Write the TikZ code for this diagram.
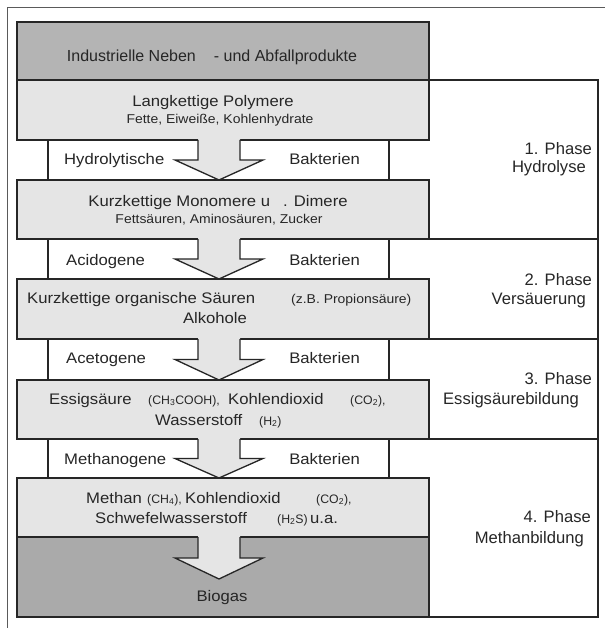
\documentclass[tikz,border=0pt]{standalone}
\usepackage{fontspec}
\setmainfont{Liberation Sans}
\newfontfamily\wfont[FakeStretch=1.09]{Liberation Sans}
\usetikzlibrary{calc}
\definecolor{lightfill}{RGB}{229,229,229}
\definecolor{darkfill}{RGB}{180,180,180}
\definecolor{gasfill}{RGB}{170,170,170}
\definecolor{ink}{RGB}{38,38,38}
\definecolor{framegray}{RGB}{90,90,90}
\tikzset{
  box/.style={draw=ink, line width=1.5pt, inner sep=0pt, outer sep=0pt, anchor=north west, minimum width=412pt},
  lightbox/.style={box, fill=lightfill},
  darkbox/.style={box, fill=darkfill},
  gasbox/.style={box, fill=gasfill},
  band/.style={draw=ink, line width=1.3pt, fill=white, inner sep=0pt, outer sep=0pt, anchor=north west, minimum width=341pt},
  toptext/.style={inner sep=0pt, text=ink, font=\fontsize{16}{19}\selectfont, anchor=base},
  big/.style={inner sep=0pt, text=ink, font=\wfont\fontsize{15.3}{18}\selectfont},
  small/.style={inner sep=0pt, text=ink, font=\wfont\fontsize{12.8}{15}\selectfont},
  formula/.style={inner sep=0pt, text=ink, font=\fontsize{12.3}{15}\selectfont},
  phase/.style={inner sep=0pt, text=ink, font=\fontsize{16.6}{20}\selectfont, anchor=base east},
  frameline/.style={draw=ink, line width=1.5pt},
  outerline/.style={draw=framegray, line width=1pt},
  arrowfill/.style={fill=lightfill},
  arrowline/.style={draw=ink, line width=1.3pt, line join=miter},
}
\newcommand\flowarrow[2]{%
  \fill[arrowfill] let \p1=(#1), \p2=(#2), \p3=($(#1)!0.5!(#2)$) in
    (\x1-21pt,\y1+0.8pt) -- (\x1-21pt,\y3) -- (\x1-44pt,\y3) -- (\x2,\y2) --
    (\x1+44pt,\y3) -- (\x1+21pt,\y3) -- (\x1+21pt,\y1+0.8pt) -- cycle;
  \draw[arrowline] let \p1=(#1), \p2=(#2), \p3=($(#1)!0.5!(#2)$) in
    (\x1-21pt,\y1) -- (\x1-21pt,\y3) -- (\x1-44pt,\y3) -- (\x2,\y2) --
    (\x1+44pt,\y3) -- (\x1+21pt,\y3) -- (\x1+21pt,\y1);
}
\begin{document}
\begin{tikzpicture}[x=1pt,y=-1pt]
\useasboundingbox (0,0) rectangle (605,628);
% outer frame
\coordinate (ofc) at (7,8);
\coordinate (ofb) at (7,628);
\coordinate (ofr) at (605,8);
\draw[outerline] (ofb) -- (ofc) -- (ofr);
% bands
\node[band, minimum height=40pt] (k1) at (48,140) {};
\node[band, minimum height=40pt] (k2) at (48,239) {};
\node[band, minimum height=41pt] (k3) at (48,339) {};
\node[band, minimum height=39pt] (k4) at (48,439) {};
% boxes
\node[darkbox, minimum height=58pt] (b0) at (17,22) {};
\node[lightbox, minimum height=60pt] (b1) at (17,80) {};
\node[lightbox, minimum height=59pt] (b2) at (17,180) {};
\node[lightbox, minimum height=60pt] (b3) at (17,279) {};
\node[lightbox, minimum height=59pt] (b4) at (17,380) {};
\node[gasbox, minimum height=80pt] (b6) at (17,537) {};
\node[lightbox, minimum height=59pt] (b5) at (17,478) {};
% arrows
\coordinate (a1s) at ([xshift=-4pt]b1.south);
\coordinate (a1t) at ([xshift=-4pt]b2.north);
\coordinate (a2s) at ([xshift=-4pt]b2.south);
\coordinate (a2t) at ([xshift=-4pt]b3.north);
\coordinate (a3s) at ([xshift=-4pt]b3.south);
\coordinate (a3t) at ([xshift=-4pt]b4.north);
\coordinate (a4s) at ([xshift=-4pt]b4.south);
\coordinate (a4t) at ([xshift=-4pt]b5.north);
\coordinate (a5s) at ([xshift=-4pt]b5.south);
\coordinate (a5t) at (219,579);
\flowarrow{a1s}{a1t}
\flowarrow{a2s}{a2t}
\flowarrow{a3s}{a3t}
\flowarrow{a4s}{a4t}
\flowarrow{a5s}{a5t}
% phase frame
\coordinate (frt) at (598,80);
\coordinate (frb) at (598,617);
\draw[frameline] (b1.north east) -- (frt) -- (frb) -- (b6.south east);
\draw[frameline] (b2.south east) -- (b2.south east -| frt);
\draw[frameline] (b3.south east) -- (b3.south east -| frt);
\draw[frameline] (b4.south east) -- (b4.south east -| frt);
% texts in boxes
\node[toptext] (t0) at (212,62) {Industrielle Neben\hspace{18pt}- und Abfallprodukte};
\node[big, anchor=base] (t1) at (213,107) {Langkettige Polymere};
\node[small, anchor=base] (t1s) at (220,124) {Fette, Eiweiße, Kohlenhydrate};
\node[big, anchor=base] (t2) at (218,207) {Kurzkettige Monomere u\hspace{13pt}. Dimere};
\node[small, anchor=base] (t2s) at (219,223) {Fettsäuren, Aminosäuren, Zucker};
\node[big, anchor=base west] (t3) at (27,303) {Kurzkettige organische Säuren};
\node[small, anchor=base west] (t3s) at (291,303) {(z.B. Propionsäure)};
\node[big, anchor=base] (t3b) at (215,323) {Alkohole};
\node[big, anchor=base west] (t4a) at (49,404) {Essigsäure};
\node[formula, anchor=base west] (t4b) at (148,404) {(CH\textsubscript{3}COOH),};
\node[big, anchor=base west] (t4c) at (228,404) {Kohlendioxid};
\node[formula, anchor=base west] (t4d) at (350,404) {(CO\textsubscript{2}),};
\node[big, anchor=base west] (t4e) at (155,425) {Wasserstoff};
\node[formula, anchor=base west] (t4f) at (259,425) {(H\textsubscript{2})};
\node[big, anchor=base west] (t5a) at (86,503) {Methan};
\node[formula, anchor=base west] (t5b) at (147,503) {(CH\textsubscript{4}),};
\node[big, anchor=base west] (t5c) at (185,503) {Kohlendioxid};
\node[formula, anchor=base west] (t5d) at (316,503) {(CO\textsubscript{2}),};
\node[big, anchor=base west] (t5e) at (95,523) {Schwefelwasserstoff};
\node[formula, anchor=base west] (t5f) at (277,523) {(H\textsubscript{2}S)};
\node[big, anchor=base west] (t5g) at (310,523) {u.a.};
\node[big, anchor=base] (t6) at (222,601) {Biogas};
% band labels
\node[big, anchor=base west] (l1) at (64,165) {Hydrolytische};
\node[big, anchor=base east] (r1) at (360,165) {Bakterien};
\node[big, anchor=base west] (l2) at (66,265) {Acidogene};
\node[big, anchor=base east] (r2) at (360,265) {Bakterien};
\node[big, anchor=base west] (l3) at (66,363) {Acetogene};
\node[big, anchor=base east] (r3) at (360,363) {Bakterien};
\node[big, anchor=base west] (l4) at (64,464) {Methanogene};
\node[big, anchor=base east] (r4) at (360,464) {Bakterien};
% phase labels
\node[phase] (p1a) at (592,155) {1. Phase};
\node[phase] (p1b) at (586,173) {Hydrolyse};
\node[phase] (p2a) at (592,285) {2. Phase};
\node[phase] (p2b) at (586,304) {Versäuerung};
\node[phase] (p3a) at (592,384) {3. Phase};
\node[phase] (p3b) at (579,404) {Essigsäurebildung};
\node[phase] (p4a) at (591,522) {4. Phase};
\node[phase] (p4b) at (584,543) {Methanbildung};
\end{tikzpicture}
\end{document}
